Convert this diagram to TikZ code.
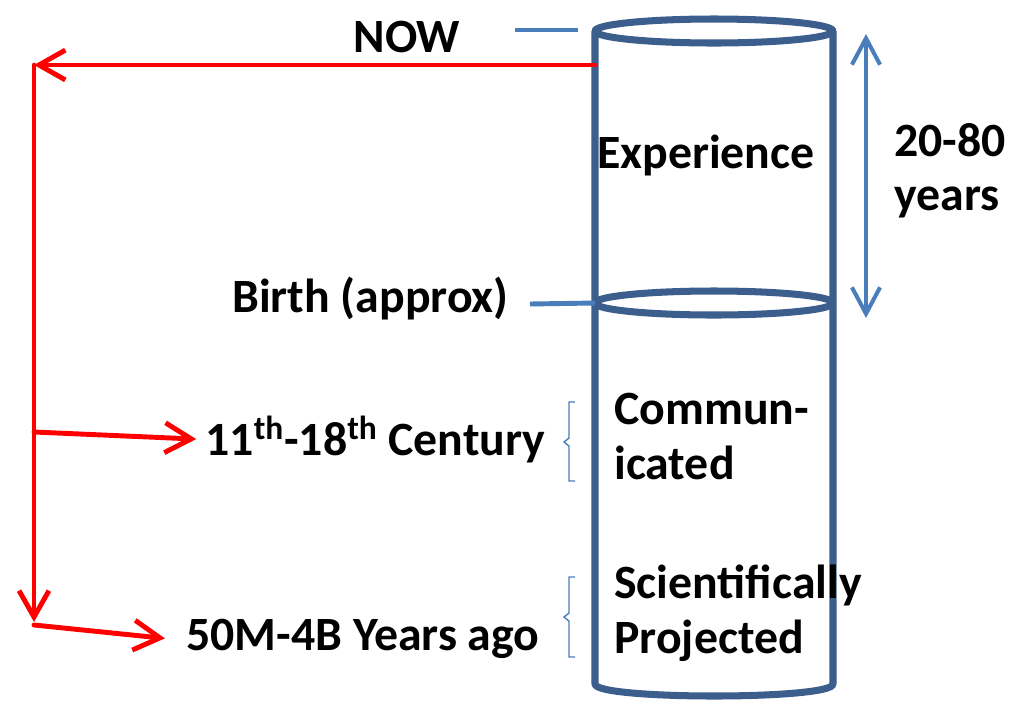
\documentclass[tikz,border=0pt]{standalone}
\usepackage{fontspec}
\setmainfont{Carlito}
\usetikzlibrary{arrows.meta}
\definecolor{cilindro}{HTML}{3B5E8C}
\definecolor{azzurro}{HTML}{4A7EBB}

\begin{document}
\begin{tikzpicture}[x=0.02cm, y=-0.02cm,
    testo/.style={font=\fontsize{27.2}{31}\selectfont\bfseries, inner sep=0pt},
    freccia/.style={red, line width=2.8pt, line cap=round, -{Straight Barb[length=15pt, width=17pt]}},
    tacca/.style={azzurro, line width=2.8pt},
    doppia/.style={azzurro, line width=2.3pt, {Straight Barb[length=15pt, width=16pt]}-{Straight Barb[length=15pt, width=16pt]}},
    graffa/.style={azzurro, line width=0.8pt},
    cil/.style={cilindro, line width=4pt, line join=round}]
    % Parametri
    \pgfmathsetmacro{\xl}{595};
    \pgfmathsetmacro{\xr}{833};
    \pgfmathsetmacro{\cx}{714};
    \pgfmathsetmacro{\rx}{119};
    \pgfmathsetmacro{\ry}{12};
    \pgfmathsetmacro{\ytop}{31};
    \pgfmathsetmacro{\ymid}{303};
    \pgfmathsetmacro{\ybot}{684};
    \useasboundingbox (0,0) rectangle (1022,701);
    % Cilindro
    \draw[cil] (\xl,\ytop) -- (\xl,\ybot) .. controls (\xl,\ybot+16) and (\xr,\ybot+16) .. (\xr,\ybot) -- (\xr,\ytop);
    \draw[cil] (\cx,\ytop) ellipse [x radius=\rx, y radius=\ry];
    \draw[cil] (\cx,\ymid) ellipse [x radius=\rx, y radius=\ry];
    \coordinate (midL) at (\xl,\ymid);
    \coordinate (nowL) at (\xl,65);
    % Testi
    \node[testo, anchor=base] (now) at (407,52) {NOW};
    \node[testo, anchor=base] (exp) at (706,168) {Experience};
    \node[testo, anchor=north west, align=left] (span) at (894,123) {20-80\\years};
    \node[testo, anchor=base west] (birth) at (232,312) {Birth (approx)};
    \node[testo, anchor=base west] (cent) at (205,455) {11\textsuperscript{th}-18\textsuperscript{th} Century};
    \node[testo, anchor=base west] (ago) at (186,650) {50M-4B Years ago};
    \node[testo, anchor=north west, align=left] (comm) at (614,393) {Commun-\\icated};
    \node[testo, anchor=north west, align=left] (sci) at (614,565) {Scientifically\\Projected};
    % Tacche
    \coordinate (nowA) at (515,30);
    \coordinate (nowB) at (578,30);
    \coordinate (birthA) at (530,304);
    \draw[tacca] (nowA) -- (nowB);
    \draw[tacca] (birthA) -- (midL);
    % 20-80 anni
    \coordinate (spanTop) at (866,34);
    \coordinate (spanBot) at (866,318);
    \draw[doppia] (spanTop) -- (spanBot);
    % Frecce rosse
    \coordinate (corner) at (34,65);
    \coordinate (down) at (34,622);
    \coordinate (br1) at (34,432);
    \coordinate (br2) at (34,625);
    \draw[freccia] (nowL) -- (corner);
    \draw[freccia] (corner) -- (down);
    \draw[freccia] (br1) -- ([xshift=-5pt]cent.west);
    \draw[freccia] (br2) -- ([xshift=-12pt]ago.west);
    % Graffe
    \draw[graffa] (575,402) -- (569,402) -- (569,438) -- (564,442) -- (569,446) -- (569,481) -- (575,481);
    \draw[graffa] (575,577) -- (569,577) -- (569,613) -- (564,617) -- (569,621) -- (569,657) -- (575,657);
\end{tikzpicture}
\end{document}
